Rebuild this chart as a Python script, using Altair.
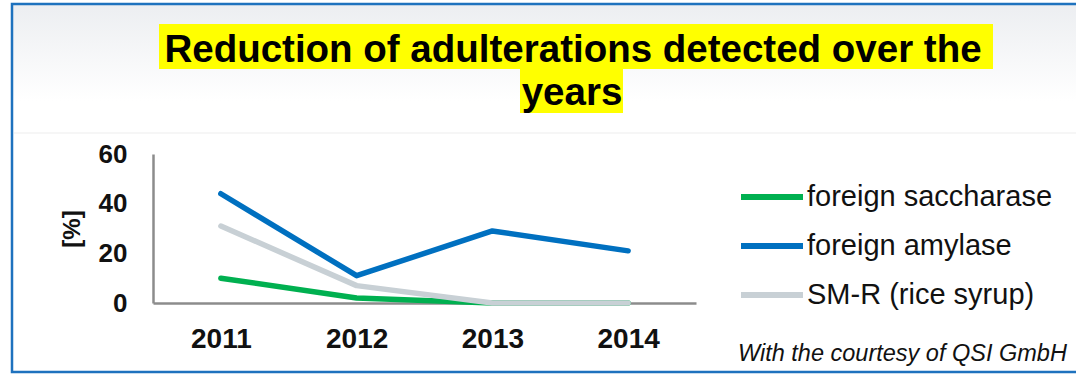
import altair as alt
import pandas as pd

# ---- data ----
years = ["2011", "2012", "2013", "2014"]
series_names = ["foreign saccharase", "foreign amylase", "SM-R (rice syrup)"]
saccharase = [10, 2, 0, 0]
amylase = [44, 11, 29, 21]
rice_syrup = [31, 7, 0, 0]
y_ticks = [0, 20, 40, 60]
colors = ["#00B050", "#0070C0", "#C8D0D5"]
title_lines = ["Reduction of adulterations detected over the", "years"]
caption_text = "With the courtesy of QSI GmbH"

rows = []
for name, vals in zip(series_names, [saccharase, amylase, rice_syrup]):
    for yr, v in zip(years, vals):
        rows.append({"year": yr, "series": name, "value": v})
df = pd.DataFrame(rows)

FONT = "Liberation Sans"
OX, OY = 153, 154          # plot-area origin on the page
W, H = 543, 149            # plot-area size
TOTAL_W, TOTAL_H = 1076, 374


def px(x):
    return x - OX


def py(y):
    return y - OY


dummy = alt.Data(values=[{"k": 1}])

background = alt.Chart(dummy).mark_rect(
    fill=alt.LinearGradient(
        gradient="linear",
        stops=[alt.GradientStop(color="#ECEEF1", offset=0),
               alt.GradientStop(color="#FFFFFF", offset=0.75)],
        x1=0, x2=0, y1=0, y2=1),
).encode(x=alt.value(px(12)), x2=alt.value(px(1090)),
         y=alt.value(py(4)), y2=alt.value(py(133)))

sep = alt.Chart(dummy).mark_rule(color="#EDEDED", strokeWidth=1).encode(
    x=alt.value(px(14)), x2=alt.value(px(1090)), y=alt.value(py(133)))

border = alt.Chart(dummy).mark_rect(
    fillOpacity=0, stroke="#1E72BE", strokeWidth=2.5
).encode(x=alt.value(px(12)), x2=alt.value(px(1090)),
         y=alt.value(py(4)), y2=alt.value(py(372)))

hl1 = alt.Chart(dummy).mark_rect(color="#FFFF00").encode(
    x=alt.value(px(159)), x2=alt.value(px(993)),
    y=alt.value(py(24)), y2=alt.value(py(69)))
hl2 = alt.Chart(dummy).mark_rect(color="#FFFF00").encode(
    x=alt.value(px(520)), x2=alt.value(px(623)),
    y=alt.value(py(69)), y2=alt.value(py(113)))

t1 = alt.Chart(dummy).mark_text(
    font=FONT, fontSize=38.5, fontWeight="bold", color="#000000",
    align="center", baseline="alphabetic"
).encode(x=alt.value(px(573)), y=alt.value(py(62)), text=alt.value(title_lines[0]))
t2 = alt.Chart(dummy).mark_text(
    font=FONT, fontSize=38.5, fontWeight="bold", color="#000000",
    align="center", baseline="alphabetic"
).encode(x=alt.value(px(572)), y=alt.value(py(105)), text=alt.value(title_lines[1]))

caption = alt.Chart(dummy).mark_text(
    font=FONT, fontSize=23.5, fontStyle="italic", color="#111111",
    align="left", baseline="alphabetic"
).encode(x=alt.value(px(738)), y=alt.value(py(361)), text=alt.value(caption_text))

lines = alt.Chart(df).mark_line(
    strokeWidth=5.5, strokeCap="round", strokeJoin="round"
).encode(
    x=alt.X("year:O", sort=years,
            scale=alt.Scale(type="point", padding=0.5),
            axis=alt.Axis(title=None, labelAngle=0, ticks=False, grid=False,
                          domainColor="#8C8C8C", domainWidth=2.5,
                          labelFont=FONT, labelFontWeight="bold",
                          labelFontSize=28, labelColor="#111111",
                          labelPadding=22)),
    y=alt.Y("value:Q", scale=alt.Scale(domain=[0, 60], nice=False),
            axis=alt.Axis(values=y_ticks, title="[%]", ticks=False, grid=False,
                          domainColor="#8C8C8C", domainWidth=2.5,
                          labelFont=FONT, labelFontWeight="bold",
                          labelFontSize=26, labelColor="#111111",
                          labelPadding=26,
                          titleFont=FONT, titleFontWeight="bold",
                          titleFontSize=24, titleColor="#111111",
                          titlePadding=14)),
    color=alt.Color("series:N",
                    scale=alt.Scale(domain=series_names, range=colors),
                    legend=alt.Legend(title=None, orient="none",
                                      legendX=px(738), legendY=py(163),
                                      symbolType="stroke", symbolSize=3844,
                                      symbolStrokeWidth=6,
                                      labelFont=FONT, labelFontSize=29,
                                      labelColor="#111111", labelLimit=500,
                                      labelOffset=1, rowPadding=-9)),
)

chart = alt.layer(background, sep, border, hl1, hl2, t1, t2, lines, caption).properties(
    width=W, height=H,
    autosize=alt.AutoSizeParams(type="none"),
    padding={"left": OX, "top": OY,
             "right": TOTAL_W - OX - W, "bottom": TOTAL_H - OY - H},
    background="#FFFFFF",
).configure_view(stroke=None)

chart.save("out.html", embed_options={"renderer": "svg", "actions": False})
